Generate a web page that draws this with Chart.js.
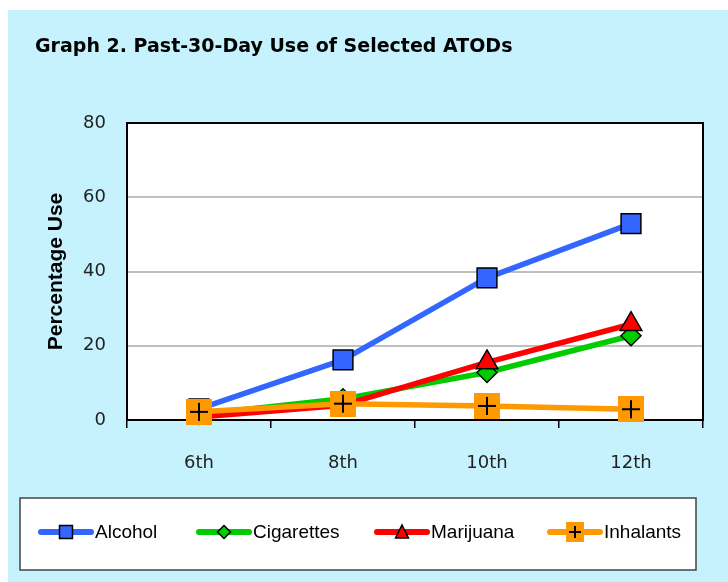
<!DOCTYPE html>
<html><head><meta charset="utf-8">
<script src="https://cdn.jsdelivr.net/npm/chart.js@4.4.0/dist/chart.umd.min.js"></script>
<style>
html,body{margin:0;padding:0;background:#fff;}
#wrap{position:absolute;left:8px;top:10px;width:720px;height:572px;background:#C6F2FE;}
canvas{display:block;}
</style></head><body>
<div id="wrap"><canvas id="c" width="720" height="572"></canvas></div>
<script>
const grades = ['6th', '8th', '10th', '12th'];
const alcohol = [3.0, 16.2, 38.3, 52.9];
const cigarettes = [1.5, 5.7, 12.8, 22.7];
const marijuana = [0.8, 4.0, 15.5, 25.8];
const inhalants = [2.2, 4.4, 3.8, 2.9];
const yTicks = [0, 20, 40, 60, 80];
const seriesNames = ['Alcohol', 'Cigarettes', 'Marijuana', 'Inhalants'];
const titleText = 'Graph 2. Past-30-Day Use of Selected ATODs';
const yTitle = 'Percentage Use';

const BLUE = '#3366FF', GREEN = '#00CC00', RED = '#FF0000', ORANGE = '#FF9900';

function mk(w, h, fn) {
  const c = document.createElement('canvas');
  c.width = w; c.height = h;
  fn(c.getContext('2d'), w, h);
  return c;
}
// Inhalants data marker: orange square with black cross
const inhalPoint = mk(26, 26, (g, w, h) => {
  g.fillStyle = ORANGE; g.fillRect(0, 0, w, h);
  g.strokeStyle = '#000'; g.lineWidth = 2;
  g.beginPath(); g.moveTo(w / 2, 4); g.lineTo(w / 2, h - 4);
  g.moveTo(4, h / 2); g.lineTo(w - 4, h / 2); g.stroke();
});

const ICON_W = 56, ICON_H = 20;
function legendIcon(color, marker) {
  return mk(ICON_W, ICON_H, (g, w, h) => {
    const cy = h / 2, cx = w / 2;
    g.strokeStyle = color; g.lineWidth = 6; g.lineCap = 'round';
    g.beginPath(); g.moveTo(3, cy); g.lineTo(w - 3, cy); g.stroke();
    g.lineWidth = 1.5; g.strokeStyle = '#000'; g.lineCap = 'butt';
    g.beginPath();
    if (marker === 'rect') {
      g.rect(cx - 6.5, cy - 6.5, 13, 13);
      g.fillStyle = color; g.fill(); g.stroke();
    } else if (marker === 'diamond') {
      g.moveTo(cx, cy - 6.5); g.lineTo(cx + 6.5, cy); g.lineTo(cx, cy + 6.5); g.lineTo(cx - 6.5, cy); g.closePath();
      g.fillStyle = color; g.fill(); g.stroke();
    } else if (marker === 'triangle') {
      g.moveTo(cx, cy - 7); g.lineTo(cx + 6.5, cy + 6); g.lineTo(cx - 6.5, cy + 6); g.closePath();
      g.fillStyle = color; g.fill(); g.stroke();
    } else {
      g.fillStyle = ORANGE; g.fillRect(cx - 9, 0, 18, h);
      g.lineWidth = 2;
      g.beginPath(); g.moveTo(cx, 4); g.lineTo(cx, h - 4); g.moveTo(cx - 6, cy); g.lineTo(cx + 6, cy); g.stroke();
    }
  });
}
const icons = [legendIcon(BLUE, 'rect'), legendIcon(GREEN, 'diamond'), legendIcon(RED, 'triangle'), legendIcon(ORANGE, 'cross')];

// legend frame and item starts (canvas px)
const LEGEND_BOX = {x: 12, y: 488, w: 676, h: 72};
const LEGEND_ITEM_X = [30, 188, 366, 539];

const framePlugin = {
  id: 'frame',
  beforeDraw(chart) {
    const {ctx, chartArea: a} = chart;
    ctx.save();
    ctx.fillStyle = '#fff';
    ctx.fillRect(a.left, a.top, a.right - a.left, a.bottom - a.top);
    ctx.fillRect(LEGEND_BOX.x, LEGEND_BOX.y, LEGEND_BOX.w, LEGEND_BOX.h);
    ctx.strokeStyle = '#444'; ctx.lineWidth = 1.5;
    ctx.strokeRect(LEGEND_BOX.x, LEGEND_BOX.y, LEGEND_BOX.w, LEGEND_BOX.h);
    ctx.restore();
  },
  beforeDatasetsDraw(chart) {
    const {ctx, chartArea: a} = chart;
    ctx.save();
    ctx.strokeStyle = '#000'; ctx.lineWidth = 2;
    ctx.strokeRect(a.left, a.top, a.right - a.left, a.bottom - a.top);
    ctx.restore();
  },
  afterDraw(chart) {
    const ctx = chart.ctx;
    const cy = LEGEND_BOX.y + LEGEND_BOX.h / 2 - 2;
    ctx.save();
    ctx.font = '19px "Liberation Sans", Arial, sans-serif';
    ctx.fillStyle = '#000';
    ctx.textBaseline = 'middle';
    chart.data.datasets.forEach((ds, i) => {
      const x = LEGEND_ITEM_X[i];
      ctx.drawImage(icons[i], x, cy - ICON_H / 2);
      ctx.fillText(ds.label, x + ICON_W + 1, cy + 1);
    });
    ctx.restore();
  }
};

const common = {borderWidth: 5.5, tension: 0, clip: false, borderJoinStyle: 'round', borderCapStyle: 'round',
  pointBorderColor: '#000', pointBorderWidth: 1.5, fill: false};

new Chart(document.getElementById('c'), {
  type: 'line',
  data: {
    labels: grades,
    datasets: [
      Object.assign({}, common, {label: seriesNames[0], data: alcohol, borderColor: BLUE, backgroundColor: BLUE, pointBackgroundColor: BLUE, pointStyle: 'rect', pointRadius: 14, order: 3}),
      Object.assign({}, common, {label: seriesNames[1], data: cigarettes, borderColor: GREEN, backgroundColor: GREEN, pointBackgroundColor: GREEN, pointStyle: 'rectRot', pointRadius: 10, order: 2}),
      Object.assign({}, common, {label: seriesNames[2], data: marijuana, borderColor: RED, backgroundColor: RED, pointBackgroundColor: RED, pointStyle: 'triangle', pointRadius: 12.5, order: 1}),
      Object.assign({}, common, {label: seriesNames[3], data: inhalants, borderColor: ORANGE, backgroundColor: ORANGE, pointBackgroundColor: ORANGE, pointStyle: inhalPoint, pointRadius: 13, order: 0})
    ]
  },
  options: {
    responsive: false,
    animation: false,
    devicePixelRatio: 1,
    layout: {padding: {left: 27, right: 25, top: 0, bottom: 0}},
    plugins: {
      tooltip: {enabled: false},
      legend: {display: false},
      title: {
        display: true, text: titleText, align: 'start', color: '#000',
        font: {family: 'DejaVu Sans', weight: 'bold', size: 19, lineHeight: 1.2},
        padding: {top: 26, bottom: 113 - 26 - 22.8}
      }
    },
    scales: {
      x: {
        type: 'category', offset: true,
        grid: {offset: true, drawOnChartArea: false, drawTicks: true, tickLength: 8, color: '#000', lineWidth: 1.5},
        border: {display: true, color: '#000', width: 2},
        ticks: {font: {family: 'DejaVu Sans', size: 18}, color: '#222', padding: 25, maxRotation: 0},
        afterFit(s) { s.height = 162; }
      },
      y: {
        min: 0, max: 80,
        afterBuildTicks(s) { s.ticks = yTicks.map(v => ({value: v})); },
        grid: {color: '#C0C0C0', lineWidth: 2, drawTicks: false},
        border: {display: true, color: '#000', width: 2},
        ticks: {font: {family: 'DejaVu Sans', size: 18}, color: '#222', padding: 21},
        title: {display: true, text: yTitle, color: '#000', font: {family: 'Liberation Sans', weight: 'bold', size: 21}, padding: {top: 9, bottom: 0}},
        afterFit(s) { s.width = 92; }
      }
    }
  },
  plugins: [framePlugin]
});
</script>
</body></html>
